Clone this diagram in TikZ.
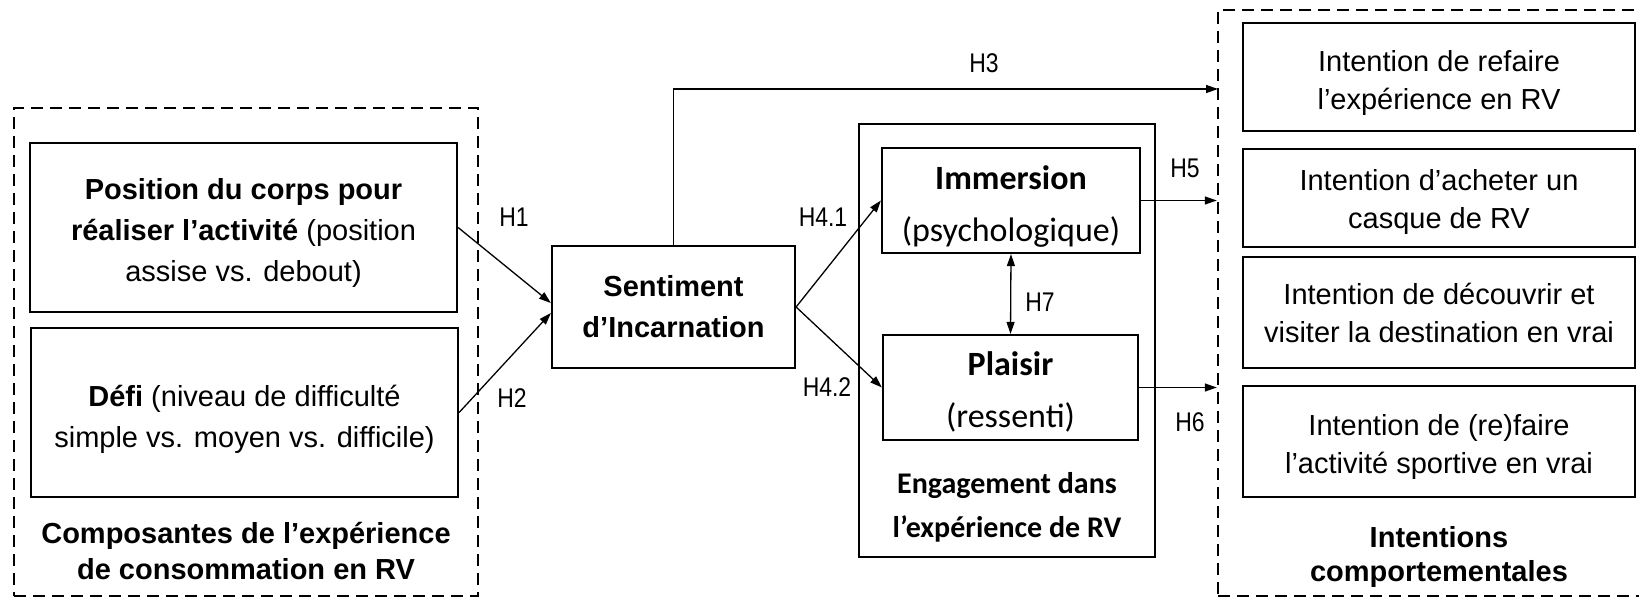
\documentclass[tikz,border=0pt]{standalone}
\usepackage{fontspec}
\setmainfont{Liberation Sans}
\newfontfamily\calibfont{Carlito}
\newfontfamily\hlabfont[FakeStretch=0.85]{Liberation Sans}
\usetikzlibrary{arrows.meta,calc}

\begin{document}
\begin{tikzpicture}[x=1bp,y=1bp,yscale=-1,xscale=1,
  cbox/.style={draw,line width=2.2bp,inner sep=0pt,align=center,minimum width=427bp,minimum height=169bp,font=\fontsize{29bp}{41bp}\selectfont},
  ibox/.style={draw,line width=2.2bp,inner sep=0pt,align=center,minimum width=392bp,font=\fontsize{29bp}{38bp}\selectfont},
  ebox/.style={draw,line width=2.2bp,inner sep=0pt,align=center,minimum height=105bp,font=\calibfont\fontsize{34bp}{52bp}\selectfont},
  dashbox/.style={draw,dash pattern=on 12bp off 7bp,line width=2.4bp,inner sep=0pt},
  thinbox/.style={draw,line width=1.3bp,inner sep=0pt},
  grplab/.style={align=center,font=\bfseries\fontsize{29bp}{36bp}\selectfont},
  hyp/.style={font=\hlabfont\fontsize{27bp}{30bp}\selectfont},
  link/.style={line width=1.3bp,-{Triangle[length=12bp,width=8bp]}},
]
\useasboundingbox (0,0) rectangle (1639,598);

%Shape: Dashed group left
\node[dashbox,minimum width=464bp,minimum height=488bp] (compo) at (246,352) {};
%Shape: Rectangle
\node[cbox] (posi) at (243.5,227.5) {\rule{0pt}{33bp}\textbf{Position du corps pour}\\\textbf{réaliser l’activité} (position\\assise vs. debout)};
%Shape: Rectangle
\node[cbox] (defi) at (244.5,412.5) {\rule{0pt}{35bp}\textbf{Défi} (niveau de difficulté\\simple vs. moyen vs. difficile)};
% Text Node
\node[grplab] (compolbl) at (246,551) {Composantes de l’expérience\\de consommation en RV};

%Shape: Rectangle
\node[draw,line width=2.2bp,inner sep=0pt,align=center,minimum width=243bp,minimum height=122bp,font=\bfseries\fontsize{29bp}{41bp}\selectfont] (sent) at (673.5,307) {Sentiment\\d’Incarnation};

%Shape: Engagement group
\node[thinbox,minimum width=296bp,minimum height=433bp] (engage) at (1007,340.5) {};
%Shape: Rectangle
\node[ebox,minimum width=258bp] (imm) at (1011,200.5) {\rule{0pt}{36bp}\textbf{Immersion}\\(psychologique)};
%Shape: Rectangle
\node[ebox,minimum width=255bp] (plai) at (1010.5,387.5) {\rule{0pt}{32bp}\textbf{Plaisir}\\(ressenti)};
% Text Node
\node[align=center,font=\calibfont\bfseries\fontsize{30bp}{44bp}\selectfont] (engagelbl) at (1007,507) {Engagement dans\\l’expérience de RV};

%Shape: Dashed group right
\node[dashbox,minimum width=428bp,minimum height=586bp] (intent) at (1432,303) {};
%Shape: Rectangle
\node[ibox,minimum height=108bp] (refaire) at (1439,77) {\rule{0pt}{33bp}Intention de refaire\\l’expérience en RV};
%Shape: Rectangle
\node[ibox,minimum height=98bp] (casque) at (1439,198) {\rule{0pt}{29bp}Intention d’acheter un\\casque de RV};
%Shape: Rectangle
\node[ibox,minimum height=111bp] (destin) at (1439,312.5) {Intention de découvrir et\\visiter la destination en vrai};
%Shape: Rectangle
\node[ibox,minimum height=111bp] (sport) at (1439,441.5) {\rule{0pt}{33bp}Intention de (re)faire\\l’activité sportive en vrai};
% Text Node
\node[grplab,font=\bfseries\fontsize{29bp}{34bp}\selectfont] (intentlbl) at (1439,557) {Intentions\\comportementales};

\coordinate (hthree) at (1218,89);

%Straight Lines
\draw[link] (posi.east) -- ($(sent.west)+(0,-4)$);
\draw[link] (defi.east) -- ($(sent.west)+(0,6)$);
\draw[link] (sent.north) |- (hthree);
\draw[link] (sent.east) -- (imm.west);
\draw[link] (sent.east) -- (plai.west);
\draw[line width=1.3bp,{Triangle[length=12bp,width=8bp]}-{Triangle[length=12bp,width=8bp]}] (imm.south) -- (plai.north);
\draw[link] (imm.east) -- (imm.east -| intent.west);
\draw[link] (plai.east) -- (plai.east -| intent.west);

% Text Node
\node[hyp] (hone) at (514,217) {H1};
% Text Node
\node[hyp] (htwo) at (512,398) {H2};
% Text Node
\node[hyp] (hthreelbl) at (984,63) {H3};
% Text Node
\node[hyp] (hfourone) at (823,217) {H4.1};
% Text Node
\node[hyp] (hfourtwo) at (827,387) {H4.2};
% Text Node
\node[hyp] (hfive) at (1185,168) {H5};
% Text Node
\node[hyp] (hsix) at (1190,422) {H6};
% Text Node
\node[hyp] (hseven) at (1040,302) {H7};

\end{tikzpicture}
\end{document}
